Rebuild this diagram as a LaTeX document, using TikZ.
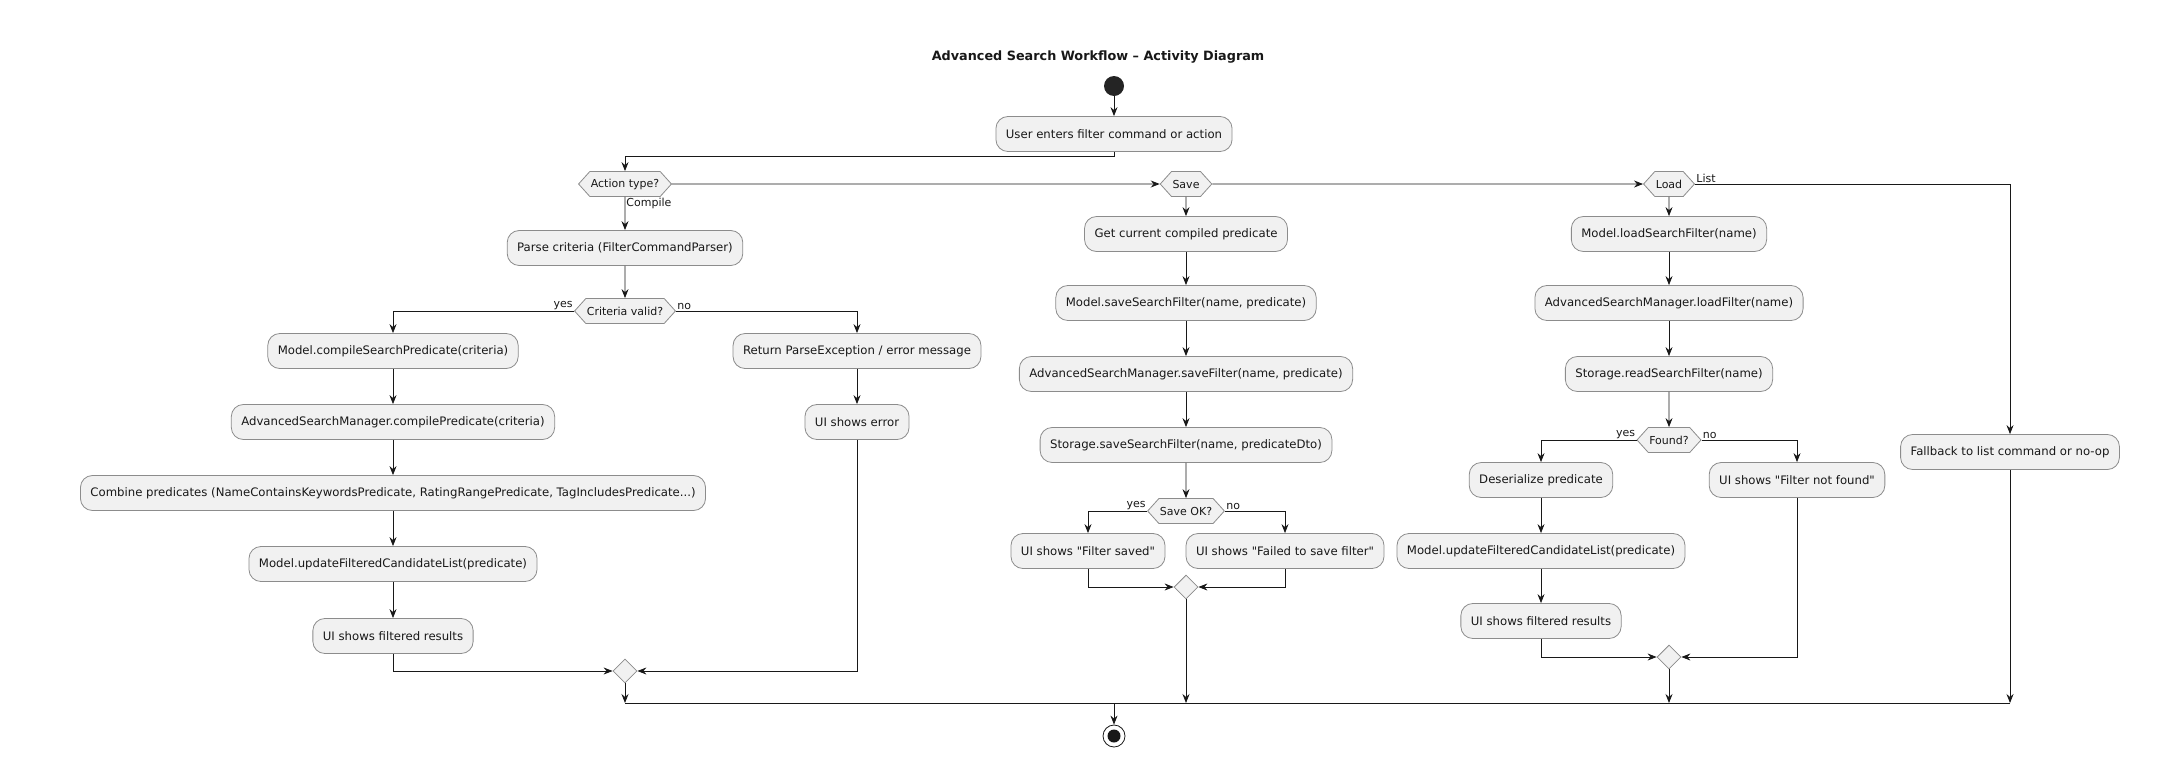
\documentclass[tikz,border=0pt]{standalone}
\usepackage{fontspec}
\newfontfamily\umlfont{DejaVu Sans}
\usetikzlibrary{arrows.meta, shapes, calc, positioning}
\definecolor{boxfill}{HTML}{F1F1F1}
\definecolor{boxline}{HTML}{181818}
\definecolor{boxedge}{HTML}{8C8C8C}

\begin{document}
\begin{tikzpicture}[x=1pt, y=-1pt, color=boxline, line width=0.8pt,
  >={Stealth[length=9pt,width=7pt,inset=3pt]},
  act/.style={shape=rectangle, rounded corners=12pt, minimum height=35pt, inner xsep=10pt, draw=boxedge, line width=0.8pt, fill=boxfill, font=\umlfont\fontsize{11.7}{14}\selectfont},
  cond/.style={shape=signal, signal to=east and west, signal pointer angle=96, minimum height=25pt, inner xsep=1pt, inner ysep=0pt, draw=boxedge, line width=0.8pt, fill=boxfill, font=\umlfont\fontsize{11}{13}\selectfont},
  merge/.style={shape=diamond, minimum size=24pt, inner sep=0pt, draw=boxedge, line width=0.8pt, fill=boxfill},
  lbl/.style={inner sep=1pt, font=\umlfont\fontsize{11}{13}\selectfont}]
\useasboundingbox (0,0) rectangle (2166,766);
\node[font=\umlfont\bfseries\fontsize{12.8}{15}\selectfont] (title) at (1098,57) {Advanced Search Workflow – Activity Diagram};
\node[shape=circle, fill=boxline!95, minimum size=20pt, inner sep=0pt] (start) at (1114,86) {};
\node[act] (enter) at (1114,134) {User enters filter command or action};
\node[cond] (kind) at (625,184) {Action type?};
\node[cond] (save) at (1186,184) {Save};
\node[cond] (load) at (1669,184) {Load};
\node[lbl, anchor=north west] (lcompile) at (kind.south) {Compile};
\node[lbl, anchor=south west] (llist) at (load.east) {List};
% compile branch
\node[act] (parse) at (625,248) {Parse criteria (FilterCommandParser)};
\node[cond] (valid) at (625,311) {Criteria valid?};
\node[lbl, anchor=south east] (lvyes) at (valid.west) {yes};
\node[lbl, anchor=south west] (lvno) at (valid.east) {no};
\node[act] (mcomp) at (393,351) {Model.compileSearchPredicate(criteria)};
\node[act] (acomp) at (393,422) {AdvancedSearchManager.compilePredicate(criteria)};
\node[act] (comb) at (393,493) {Combine predicates (NameContainsKeywordsPredicate, RatingRangePredicate, TagIncludesPredicate...)};
\node[act] (mupd) at (393,564) {Model.updateFilteredCandidateList(predicate)};
\node[act] (shown) at (393,636) {UI shows filtered results};
\node[act] (perr) at (857,351) {Return ParseException / error message};
\node[act] (uierr) at (857,422) {UI shows error};
\node[merge] (mcmp) at (625,671) {};
% save branch
\node[act] (getp) at (1186,234) {Get current compiled predicate};
\node[act] (msave) at (1186,303) {Model.saveSearchFilter(name, predicate)};
\node[act] (asave) at (1186,374) {AdvancedSearchManager.saveFilter(name, predicate)};
\node[act] (ssave) at (1186,445) {Storage.saveSearchFilter(name, predicateDto)};
\node[cond] (saveok) at (1186,511) {Save OK?};
\node[lbl, anchor=south east] (lsyes) at (saveok.west) {yes};
\node[lbl, anchor=south west] (lsno) at (saveok.east) {no};
\node[act] (saved) at (1088,551) {UI shows "Filter saved"};
\node[act] (sfail) at (1285,551) {UI shows "Failed to save filter"};
\node[merge] (msv) at (1186,587) {};
% load branch
\node[act] (mload) at (1669,234) {Model.loadSearchFilter(name)};
\node[act] (aload) at (1669,303) {AdvancedSearchManager.loadFilter(name)};
\node[act] (sread) at (1669,374) {Storage.readSearchFilter(name)};
\node[cond] (found) at (1669,440) {Found?};
\node[lbl, anchor=south east] (lfyes) at (found.west) {yes};
\node[lbl, anchor=south west] (lfno) at (found.east) {no};
\node[act] (deser) at (1541,480) {Deserialize predicate};
\node[act] (lupd) at (1541,551) {Model.updateFilteredCandidateList(predicate)};
\node[act] (lshown) at (1541,621) {UI shows filtered results};
\node[act] (nfound) at (1797,480) {UI shows "Filter not found"};
\node[merge] (mld) at (1669,657) {};
% list branch
\node[act] (fall) at (2010,452) {Fallback to list command or no-op};
\coordinate (barl) at (625,703);
\coordinate (barr) at (2010,703);
\node[shape=circle, draw=boxline, line width=0.8pt, fill=white, minimum size=22pt, inner sep=0pt] (stop) at (1114,736) {};
\node[shape=circle, fill=boxline, minimum size=13pt, inner sep=0pt] (stopdot) at (stop) {};
\draw [->] (start) -- (enter);
\draw [->] (enter.south) -- ++(0,4) -| (kind.north);
\draw [->] (kind) -- (save); \draw [->] (save) -- (load);
\draw [->] (load.east) -| (fall.north);
\draw [->] (kind) -- (parse); \draw [->] (parse) -- (valid);
\draw [->] (valid.west) -| (mcomp.north); \draw [->] (valid.east) -| (perr.north);
\draw [->] (mcomp) -- (acomp); \draw [->] (acomp) -- (comb); \draw [->] (comb) -- (mupd); \draw [->] (mupd) -- (shown);
\draw [->] (perr) -- (uierr);
\draw [->] (shown.south) |- (mcmp.west); \draw [->] (uierr.south) |- (mcmp.east);
\draw [->] (save) -- (getp); \draw [->] (getp) -- (msave); \draw [->] (msave) -- (asave); \draw [->] (asave) -- (ssave); \draw [->] (ssave) -- (saveok);
\draw [->] (saveok.west) -| (saved.north); \draw [->] (saveok.east) -| (sfail.north);
\draw [->] (saved.south) |- (msv.west); \draw [->] (sfail.south) |- (msv.east);
\draw [->] (load) -- (mload); \draw [->] (mload) -- (aload); \draw [->] (aload) -- (sread); \draw [->] (sread) -- (found);
\draw [->] (found.west) -| (deser.north); \draw [->] (found.east) -| (nfound.north);
\draw [->] (deser) -- (lupd); \draw [->] (lupd) -- (lshown);
\draw [->] (lshown.south) |- (mld.west); \draw [->] (nfound.south) |- (mld.east);
\draw (barl) -- (barr);
\draw [->] (mcmp.south) -- (barl);
\draw [->] (msv.south) -- (msv |- barl);
\draw [->] (mld.south) -- (mld |- barl);
\draw [->] (fall.south) -- (barr);
\draw [->] (enter |- barl) -- (stop.north);
\end{tikzpicture}
\end{document}
